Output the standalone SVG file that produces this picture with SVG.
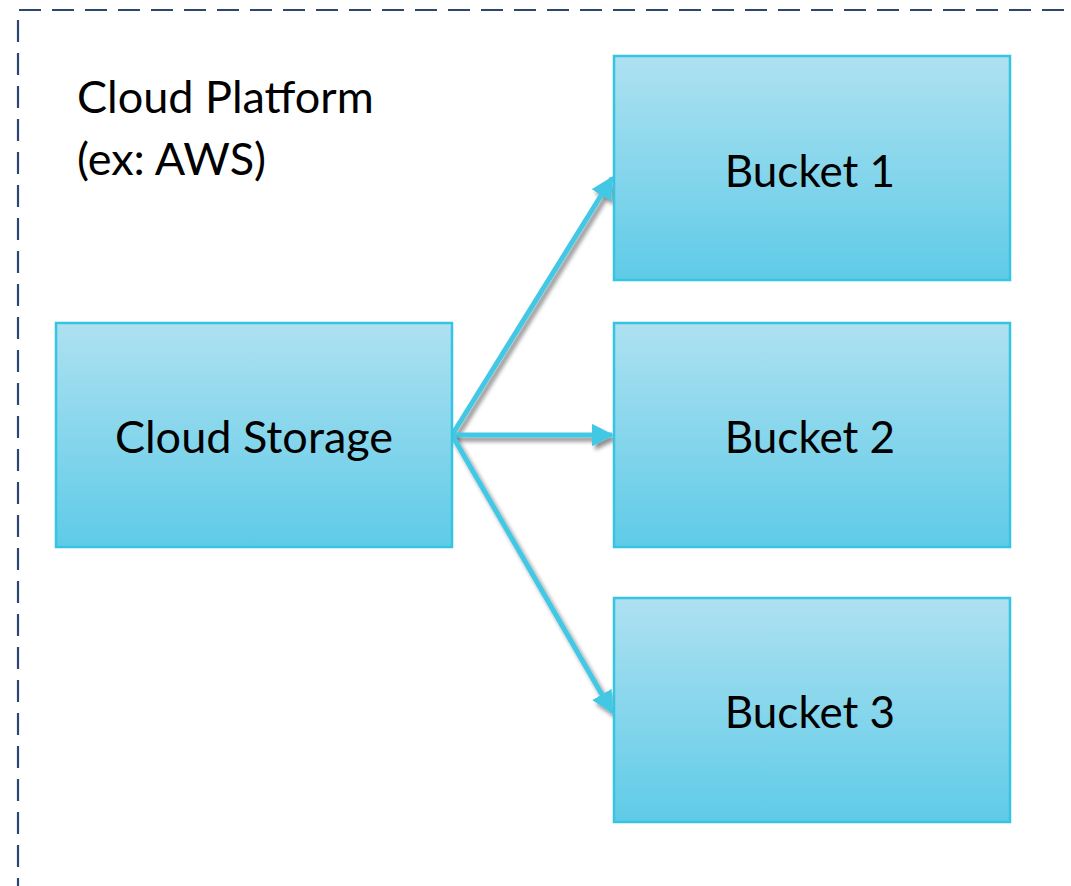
<svg xmlns="http://www.w3.org/2000/svg" width="1071" height="886" viewBox="0 0 1071 886">
<style>
.box{stroke:#35C4E2;stroke-width:2.5;fill:url(#g)}
.lbl{font-family:Lato,"Noto Sans",sans-serif;font-size:44px;fill:#000;text-anchor:middle}
.lbl2{font-family:Lato,"Noto Sans",sans-serif;font-size:45px;fill:#000;text-anchor:middle}
.title{font-family:Lato,"Noto Sans",sans-serif;font-size:45px;fill:#000}
.conn{stroke:#43C8E5;stroke-width:5;fill:none;marker-end:url(#ah);filter:url(#sh)}
</style>
<defs>
<linearGradient id="g" x1="0" y1="0" x2="0" y2="1">
<stop offset="0" stop-color="#AEE1F1"/>
<stop offset="1" stop-color="#5FCBE7"/>
</linearGradient>
<marker id="ah" viewBox="0 0 10 10" refX="9" refY="5" markerWidth="4.5" markerHeight="4.5" orient="auto" markerUnits="strokeWidth">
<path d="M0,0 L10,5 L0,10 z" fill="#43C8E5"/>
</marker>
<filter id="sh" filterUnits="userSpaceOnUse" x="0" y="0" width="1071" height="886">
<feGaussianBlur in="SourceAlpha" stdDeviation="2"/>
<feOffset dx="3" dy="4" result="b"/>
<feComponentTransfer><feFuncA type="linear" slope="0.45"/></feComponentTransfer>
<feMerge><feMergeNode/><feMergeNode in="SourceGraphic"/></feMerge>
</filter>
</defs>
<rect width="1071" height="886" fill="#fff"/>
<g id="platform">
<path d="M18,900 L18,10 L1090,10" fill="none" stroke="#2D4670" stroke-width="2.2" stroke-dasharray="22,11"/>
<text class="title" x="77" y="113">Cloud Platform</text>
<text class="title" x="77" y="175">(ex: AWS)</text>
</g>
<g id="connectors">
<line class="conn" x1="452" y1="435" x2="612" y2="178"/>
<line class="conn" x1="452" y1="435" x2="612" y2="435"/>
<line class="conn" x1="452" y1="435" x2="612" y2="712"/>
</g>
<g id="cloud-storage">
<rect class="box" x="56" y="323" width="396" height="224"/>
<text class="lbl2" x="254" y="453">Cloud Storage</text>
</g>
<g id="bucket1">
<rect class="box" x="614" y="56" width="396" height="224"/>
<text class="lbl" x="810" y="187">Bucket 1</text>
</g>
<g id="bucket2">
<rect class="box" x="614" y="323" width="396" height="224"/>
<text class="lbl" x="810" y="453">Bucket 2</text>
</g>
<g id="bucket3">
<rect class="box" x="614" y="598" width="396" height="224"/>
<text class="lbl" x="810" y="728">Bucket 3</text>
</g>
</svg>
